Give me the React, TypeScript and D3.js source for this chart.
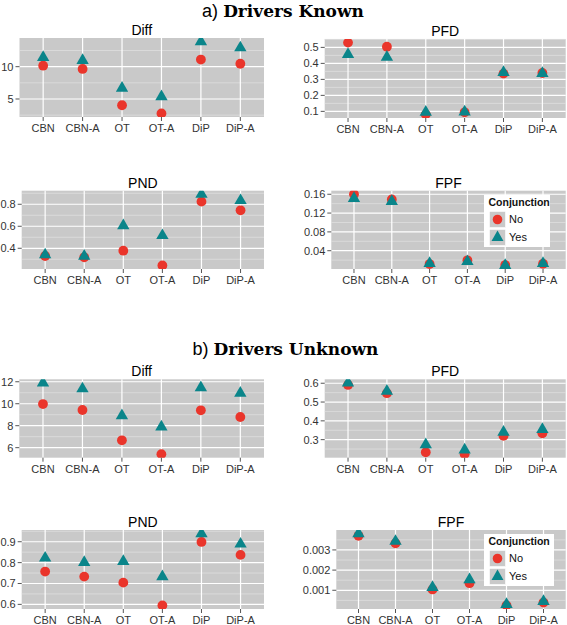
import React from "react";
import * as d3 from "d3";

const categories = ["CBN", "CBN-A", "OT", "OT-A", "DiP", "DiP-A"];
const seriesNames = ["No", "Yes"];

// a) Drivers Known
const knownDiffNo = [10.15, 9.65, 4.03, 2.77, 11.1, 10.45];
const knownDiffYes = [11.42, 10.97, 6.67, 5.37, 13.88, 12.92];
const knownPFDNo = [0.53, 0.504, 0.081, 0.094, 0.336, 0.34];
const knownPFDYes = [0.456, 0.439, 0.095, 0.097, 0.343, 0.337];
const knownPNDNo = [0.33, 0.318, 0.378, 0.244, 0.824, 0.745];
const knownPNDYes = [0.341, 0.328, 0.606, 0.516, 0.891, 0.834];
const knownFPFNo = [0.16, 0.149, 0.0117, 0.0196, 0.0095, 0.0123];
const knownFPFYes = [0.151, 0.145, 0.013, 0.017, 0.0087, 0.013];

// b) Drivers Unknown
const unknownDiffNo = [9.97, 9.43, 6.67, 5.41, 9.4, 8.79];
const unknownDiffYes = [11.9, 11.36, 8.91, 7.89, 11.46, 10.96];
const unknownPFDNo = [0.591, 0.547, 0.233, 0.223, 0.32, 0.334];
const unknownPFDYes = [0.602, 0.558, 0.273, 0.246, 0.34, 0.354];
const unknownPNDNo = [0.757, 0.733, 0.704, 0.595, 0.899, 0.837];
const unknownPNDYes = [0.822, 0.801, 0.806, 0.733, 0.939, 0.889];
const unknownFPFNo = [0.0037, 0.00333, 0.00104, 0.00135, 0.00025, 0.00039];
const unknownFPFYes = [0.00381, 0.00343, 0.00114, 0.00153, 0.0003, 0.00045];

// tick values and labels
const diffKnownTicks = [5, 10];
const diffKnownLabels = ["5", "10"];
const pfdKnownTicks = [0.1, 0.2, 0.3, 0.4, 0.5];
const pfdKnownLabels = ["0.1", "0.2", "0.3", "0.4", "0.5"];
const pndKnownTicks = [0.4, 0.6, 0.8];
const pndKnownLabels = ["0.4", "0.6", "0.8"];
const fpfKnownTicks = [0.04, 0.08, 0.12, 0.16];
const fpfKnownLabels = ["0.04", "0.08", "0.12", "0.16"];
const diffUnknownTicks = [6, 8, 10, 12];
const diffUnknownLabels = ["6", "8", "10", "12"];
const pfdUnknownTicks = [0.3, 0.4, 0.5, 0.6];
const pfdUnknownLabels = ["0.3", "0.4", "0.5", "0.6"];
const pndUnknownTicks = [0.6, 0.7, 0.8, 0.9];
const pndUnknownLabels = ["0.6", "0.7", "0.8", "0.9"];
const fpfUnknownTicks = [0.001, 0.002, 0.003];
const fpfUnknownLabels = ["0.001", "0.002", "0.003"];

const sectionTitles = [
  { tag: "a)", text: "Drivers Known" },
  { tag: "b)", text: "Drivers Unknown" },
];

// layout
const W = 567;
const H = 625;
const RED = "#EA352B";
const TEAL = "#0A858A";
const PANEL_BG = "#C9C9C9";
const FONT = "Liberation Sans, Arimo, Arial, sans-serif";
const sans = (size: number, weight: string = "normal") => ({ fontFamily: FONT, fontSize: `${size}px`, fontWeight: weight });

const panels = [
  { title: "Diff", no: knownDiffNo, yes: knownDiffYes, ticks: diffKnownTicks, labels: diffKnownLabels, r: { x0: 19.5, x1: 264, y0: 38, y1: 117 } },
  { title: "PFD", no: knownPFDNo, yes: knownPFDYes, ticks: pfdKnownTicks, labels: pfdKnownLabels, r: { x0: 324.7, x1: 565.7, y0: 39, y1: 118 } },
  { title: "PND", no: knownPNDNo, yes: knownPNDYes, ticks: pndKnownTicks, labels: pndKnownLabels, r: { x0: 21.7, x1: 264, y0: 190.7, y1: 269 } },
  { title: "FPF", no: knownFPFNo, yes: knownFPFYes, ticks: fpfKnownTicks, labels: fpfKnownLabels, r: { x0: 331.3, x1: 565.7, y0: 190.7, y1: 269 }, legend: { x: 484, y: 195, w: 66, h: 52 } },
  { title: "Diff", no: unknownDiffNo, yes: unknownDiffYes, ticks: diffUnknownTicks, labels: diffUnknownLabels, r: { x0: 19.3, x1: 264, y0: 379.3, y1: 457.7 } },
  { title: "PFD", no: unknownPFDNo, yes: unknownPFDYes, ticks: pfdUnknownTicks, labels: pfdUnknownLabels, r: { x0: 324.7, x1: 565.7, y0: 379.3, y1: 457.7 } },
  { title: "PND", no: unknownPNDNo, yes: unknownPNDYes, ticks: pndUnknownTicks, labels: pndUnknownLabels, r: { x0: 21.7, x1: 264, y0: 530, y1: 609 } },
  { title: "FPF", no: unknownFPFNo, yes: unknownFPFYes, ticks: fpfUnknownTicks, labels: fpfUnknownLabels, r: { x0: 336.3, x1: 565.7, y0: 530, y1: 609 }, legend: { x: 484, y: 534, w: 70, h: 52 } },
];

const titlePos = [
  { x: 283, y: 17 },
  { x: 285.5, y: 355 },
];

const triPath = d3.symbol(d3.symbolTriangle, 66)() as string;
const triPathSmall = d3.symbol(d3.symbolTriangle, 62)() as string;

function Legend({ x, y, w, h }: { x: number; y: number; w: number; h: number }) {
  const key = 16;
  return (
    <g transform={`translate(${x},${y})`}>
      <rect x={0} y={0} width={w} height={h} fill="white" />
      <text x={4.5} y={11} style={sans(10.5, "bold")} fill="#111">
        Conjunction
      </text>
      {seriesNames.map((s, i) => {
        const cy = 24.5 + i * 18;
        return (
          <g key={s}>
            <rect x={5.5} y={cy - key / 2} width={key} height={key} fill={PANEL_BG} stroke="white" strokeWidth={0.6} />
            {i === 0 ? (
              <circle cx={5.5 + key / 2} cy={cy} r={4.8} fill={RED} />
            ) : (
              <path d={triPathSmall} transform={`translate(${5.5 + key / 2},${cy})`} fill={TEAL} />
            )}
            <text x={25} y={cy} dy="0.36em" style={sans(11)} fill="#111">
              {s}
            </text>
          </g>
        );
      })}
    </g>
  );
}

function Panel({ p, idx }: { p: any; idx: number }) {
  const { r } = p;
  const all = [...p.no, ...p.yes];
  const [mn, mx] = d3.extent(all) as [number, number];
  const pad = (mx - mn) * 0.05;
  const y = d3.scaleLinear().domain([mn - pad, mx + pad]).range([r.y1, r.y0]);
  const x = d3.scalePoint<string>().domain(categories).range([r.x0, r.x1]).padding(0.6);
  const step = p.ticks.length > 1 ? p.ticks[1] - p.ticks[0] : 1;
  const minors: number[] = [];
  for (let k = -3; k < p.ticks.length + 3; k++) {
    const v = p.ticks[0] + (k - 0.5) * step;
    if (v > y.domain()[0] && v < y.domain()[1]) minors.push(v);
  }
  const clipId = `clip-${idx}`;
  return (
    <g>
      <defs>
        <clipPath id={clipId}>
          <rect x={r.x0} y={r.y0} width={r.x1 - r.x0} height={r.y1 - r.y0} />
        </clipPath>
      </defs>
      <rect x={r.x0} y={r.y0} width={r.x1 - r.x0} height={r.y1 - r.y0} fill={PANEL_BG} />
      {minors.map((v, i) => (
        <line key={`mn${i}`} x1={r.x0} x2={r.x1} y1={y(v)} y2={y(v)} stroke="#E6E6E6" strokeWidth={0.6} />
      ))}
      {p.ticks.map((v: number, i: number) => (
        <line key={`mj${i}`} x1={r.x0} x2={r.x1} y1={y(v)} y2={y(v)} stroke="white" strokeWidth={1.2} />
      ))}
      {categories.map((c) => (
        <line key={`v${c}`} x1={x(c)} x2={x(c)} y1={r.y0} y2={r.y1} stroke="white" strokeWidth={1.2} />
      ))}
      <g clipPath={`url(#${clipId})`}>
        {categories.map((c, i) => (
          <circle key={`n${c}`} cx={x(c)} cy={y(p.no[i])} r={4.9} fill={RED} />
        ))}
        {categories.map((c, i) => (
          <path key={`y${c}`} d={triPath} transform={`translate(${x(c)},${y(p.yes[i])})`} fill={TEAL} />
        ))}
      </g>
      {p.ticks.map((v: number, i: number) => (
        <g key={`yt${i}`}>
          <line x1={r.x0 - 4} x2={r.x0} y1={y(v)} y2={y(v)} stroke="#555" strokeWidth={1} />
          <text x={r.x0 - 6} y={y(v)} dy="0.36em" textAnchor="end" style={sans(11)} fill="#333">
            {p.labels[i]}
          </text>
        </g>
      ))}
      {categories.map((c) => (
        <g key={`xt${c}`}>
          <line x1={x(c)} x2={x(c)} y1={r.y1} y2={r.y1 + 4} stroke="#555" strokeWidth={1} />
          <text x={x(c)} y={r.y1 + 15} textAnchor="middle" style={sans(11)} fill="#333">
            {c}
          </text>
        </g>
      ))}
      <text x={(r.x0 + r.x1) / 2} y={r.y0 - 3} textAnchor="middle" style={sans(14)} fill="#000">
        {p.title}
      </text>
      {p.legend && <Legend {...p.legend} />}
    </g>
  );
}

export default function App() {
  return (
    <svg
      width={W}
      height={H}
      viewBox={`0 0 ${W} ${H}`}
      style={{ position: "absolute", left: 0, top: 0, background: "white" }}
    >
      <rect x={0} y={0} width={W} height={H} fill="white" />
      {sectionTitles.map((t, i) => (
        <text key={t.tag} x={titlePos[i].x} y={titlePos[i].y} textAnchor="middle" fill="#000">
          <tspan style={sans(18)}>{t.tag}</tspan>
          <tspan dx={5} style={{ fontFamily: "DejaVu Serif, serif", fontWeight: "bold", fontSize: "17px" }}>
            {t.text}
          </tspan>
        </text>
      ))}
      {panels.map((p, i) => (
        <Panel key={i} p={p} idx={i} />
      ))}
    </svg>
  );
}
